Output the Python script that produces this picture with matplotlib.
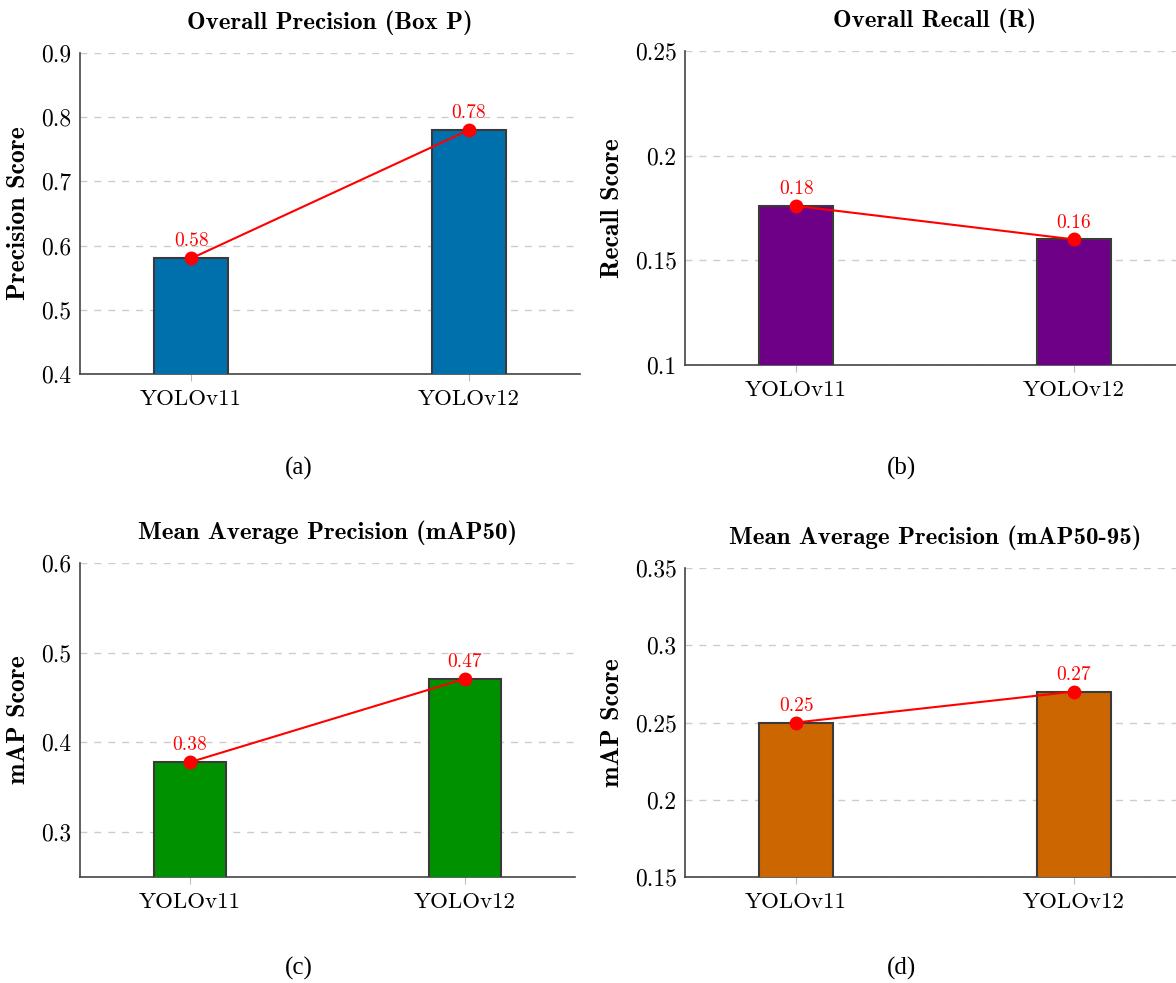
import matplotlib
matplotlib.use("Agg")
import matplotlib.pyplot as plt
from matplotlib.ticker import FuncFormatter

# Data
models = ["YOLOv11", "YOLOv12"]

precision = [0.58, 0.78]
recall = [0.176, 0.16]
map50 = [0.378, 0.471]
map50_95 = [0.25, 0.27]

titles = ["Overall Precision (Box P)", "Overall Recall (R)",
          "Mean Average Precision (mAP50)", "Mean Average Precision (mAP50-95)"]
ylabels = ["Precision Score", "Recall Score", "mAP Score", "mAP Score"]
yticks = [[0.4, 0.5, 0.6, 0.7, 0.8, 0.9],
          [0.1, 0.15, 0.2, 0.25],
          [0.3, 0.4, 0.5, 0.6],
          [0.15, 0.2, 0.25, 0.3, 0.35]]
ylims = [(0.4, 0.9), (0.1, 0.25), (0.25, 0.6), (0.15, 0.35)]
colors = ["#0070AD", "#6E0087", "#009100", "#CC6600"]
panel_tags = ["(a)", "(b)", "(c)", "(d)"]

series = [precision, recall, map50, map50_95]

plt.rcParams["font.family"] = "cmr10"
plt.rcParams["axes.formatter.use_mathtext"] = True

fig = plt.figure(figsize=(11.76, 9.83), dpi=100)

W, H = 1176, 983
# axes boxes in pixels: left, top, right, bottom
boxes = [(80, 53, 580, 374),
         (685, 51, 1185, 365),
         (80, 563, 575, 877),
         (685, 568, 1185, 877)]
tag_pos = [(299, 468), (901, 468), (299, 968), (901, 968)]

x = list(range(len(models)))

for i in range(4):
    l, t, r, b = boxes[i]
    ax = fig.add_axes([l / W, 1 - b / H, (r - l) / W, (b - t) / H])
    vals = series[i]
    ax.bar(x, vals, width=0.265, color=colors[i], edgecolor="#3a3a3a",
           linewidth=1.5, zorder=3)
    ax.plot(x, vals, color="red", linewidth=1.5, marker="o", markersize=9,
            zorder=4)
    span = ylims[i][1] - ylims[i][0]
    for xi, v in zip(x, vals):
        ax.text(xi, v + span * 0.025, f"{v:.2f}", color="red", ha="center",
                va="bottom", fontsize=14, zorder=5)

    ax.set_xlim(-0.4, 1.4)
    ax.set_ylim(*ylims[i])
    ax.set_yticks(yticks[i])
    ax.yaxis.set_major_formatter(FuncFormatter(lambda v, p: f"{v:g}"))
    ax.set_xticks(x)
    ax.set_xticklabels(models)
    ax.tick_params(axis="y", length=0, labelsize=17, pad=6)
    ax.tick_params(axis="x", length=5, color="#bbbbbb", labelsize=16.5, pad=6)

    ax.grid(axis="y", linestyle=(0, (5, 5)), color="#cccccc", linewidth=1,
            zorder=0)
    ax.set_axisbelow(True)
    for s in ["top", "right"]:
        ax.spines[s].set_visible(False)
    for s in ["left", "bottom"]:
        ax.spines[s].set_color("#444444")
        ax.spines[s].set_linewidth(1.2)

    ax.set_title(titles[i], fontfamily="cmb10", fontsize=18, pad=17)
    ax.set_ylabel(ylabels[i], fontfamily="cmb10", fontsize=18.5, labelpad=8)

    fig.text(tag_pos[i][0] / W, 1 - tag_pos[i][1] / H, panel_tags[i],
             fontfamily="Liberation Serif", fontsize=18, ha="center",
             va="center")

fig.savefig("out.png", dpi=100)
